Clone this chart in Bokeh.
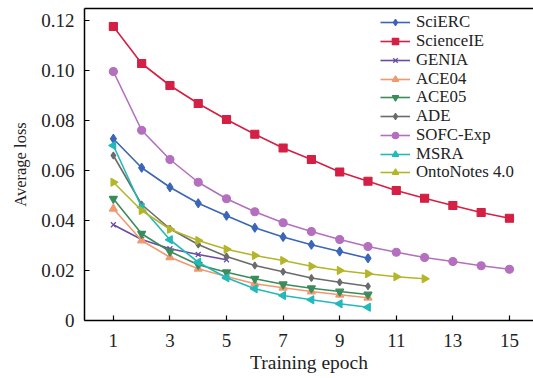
import math
from bokeh.plotting import figure
from bokeh.models import FixedTicker, LinearAxis, Legend, LegendItem
from bokeh.embed import file_html
from bokeh.resources import INLINE

series_names = ["SciERC", "ScienceIE", "GENIA", "ACE04", "ACE05", "ADE", "SOFC-Exp", "MSRA", "OntoNotes 4.0"]

sciERC = [0.0727, 0.0611, 0.0533, 0.0469, 0.0419, 0.0371, 0.0334, 0.0303, 0.0276, 0.0249]
scienceIE = [0.1176, 0.1028, 0.0940, 0.0868, 0.0804, 0.0745, 0.0690, 0.0644, 0.0594, 0.0557, 0.0520, 0.0489, 0.0460, 0.0432, 0.0409]
genia = [0.0383, 0.0324, 0.0287, 0.0264, 0.0243]
ace04 = [0.0447, 0.0320, 0.0253, 0.0207, 0.0176, 0.0147, 0.0131, 0.0116, 0.0103, 0.0091]
ace05 = [0.0487, 0.0347, 0.0276, 0.0223, 0.0193, 0.0167, 0.0145, 0.0129, 0.0116, 0.0104]
ade = [0.0660, 0.0464, 0.0367, 0.0304, 0.0256, 0.0220, 0.0195, 0.0170, 0.0153, 0.0137]
sofc = [0.0996, 0.0761, 0.0644, 0.0553, 0.0487, 0.0435, 0.0391, 0.0356, 0.0324, 0.0296, 0.0273, 0.0252, 0.0236, 0.0219, 0.0205]
msra = [0.0700, 0.0453, 0.0323, 0.0233, 0.0171, 0.0127, 0.0100, 0.0083, 0.0067, 0.0053]
ontonotes = [0.0553, 0.0440, 0.0365, 0.0320, 0.0285, 0.0260, 0.0240, 0.0217, 0.0200, 0.0187, 0.0175, 0.0167]

x_ticks = [1, 3, 5, 7, 9, 11, 13, 15]
y_ticks = [0, 0.02, 0.04, 0.06, 0.08, 0.10, 0.12]
y_tick_labels = ["0", "0.02", "0.04", "0.06", "0.08", "0.10", "0.12"]

all_values = [sciERC, scienceIE, genia, ace04, ace05, ade, sofc, msra, ontonotes]
colors = ["#3b66b8", "#d42045", "#6b4aa3", "#f2986e", "#3a8c5c", "#6b6b6b", "#b470be", "#22b9ba", "#b5b52a"]
markers = ["diamond", "square", "x", "triangle", "inverted_triangle", "diamond", "circle", "triangle", "triangle"]
angles = [0, 0, 0, 0, 0, 0, 0, math.pi / 2, -math.pi / 2]
sizes = [9, 8, 7, 8, 8, 7, 8, 8, 8]

FONT = "Liberation Serif"
FRAME_H = 312          # plot frame height in px
LEG_LEFT = 296         # legend left edge, px from frame left
LEG_FIRST = 15         # centre of first legend row, px below frame top
LEG_STEP = 18.75       # row pitch in px
LEG_ROW_H = 18.6

p = figure(width=533, height=378, output_backend="svg", toolbar_location=None,
           x_range=(-0.02, 15.85), y_range=(0, 0.1248),
           min_border_left=84, min_border_right=0, min_border_top=8, min_border_bottom=58)
p.outline_line_color = None
p.xgrid.grid_line_color = None
p.ygrid.grid_line_color = None
p.background_fill_color = "white"
p.border_fill_color = "white"

for i, (name, vals, c, m, a, s) in enumerate(zip(series_names, all_values, colors, markers, angles, sizes)):
    xs = list(range(1, len(vals) + 1))
    r1 = p.line(xs, vals, line_color=c, line_width=1.6)
    r2 = p.scatter(xs, vals, marker=m, angle=a, size=s, fill_color=c, line_color=c, line_width=1.2)
    centre = LEG_FIRST + LEG_STEP * i
    bottom = FRAME_H - (centre + LEG_ROW_H / 2)
    leg = Legend(items=[LegendItem(label=name, renderers=[r1, r2])], location=(LEG_LEFT, bottom))
    leg.border_line_color = None
    leg.background_fill_alpha = 0
    leg.label_text_font = FONT
    leg.label_text_font_size = "16.8px"
    leg.label_text_color = "#222222"
    leg.glyph_width = 30
    leg.glyph_height = 16
    leg.label_height = 16
    leg.padding = 0
    leg.margin = 0
    leg.label_standoff = 6
    p.add_layout(leg)

for ax in (p.xaxis[0], p.yaxis[0]):
    ax.axis_line_width = 1.5
    ax.axis_line_color = "black"
    ax.major_tick_in = 5
    ax.major_tick_out = 0
    ax.major_tick_line_width = 1.2
    ax.minor_tick_line_color = None
    ax.major_label_text_font = FONT
    ax.major_label_text_font_size = "19px"
    ax.major_label_text_color = "#222222"
    ax.axis_label_text_font = FONT
    ax.axis_label_text_font_size = "19.5px"
    ax.axis_label_text_font_style = "normal"
    ax.axis_label_text_color = "#222222"

p.yaxis.axis_label_text_font_size = "16.5px"
p.xaxis.ticker = FixedTicker(ticks=x_ticks)
p.yaxis.ticker = FixedTicker(ticks=y_ticks)
p.yaxis.major_label_overrides = {t: l for t, l in zip(y_ticks, y_tick_labels)}
p.xaxis.axis_label = "Training epoch"
p.yaxis.axis_label = "Average loss"
p.xaxis.major_label_standoff = 13
p.xaxis.axis_label_standoff = 2
p.yaxis.major_label_standoff = 10
p.yaxis.axis_label_standoff = 8

top = LinearAxis(major_tick_line_color=None, minor_tick_line_color=None,
                 major_label_text_font_size="0px", axis_line_width=1.5,
                 major_label_standoff=0, ticker=FixedTicker(ticks=[]))
p.add_layout(top, "above")

open("out.html", "w").write(file_html(p, INLINE))
